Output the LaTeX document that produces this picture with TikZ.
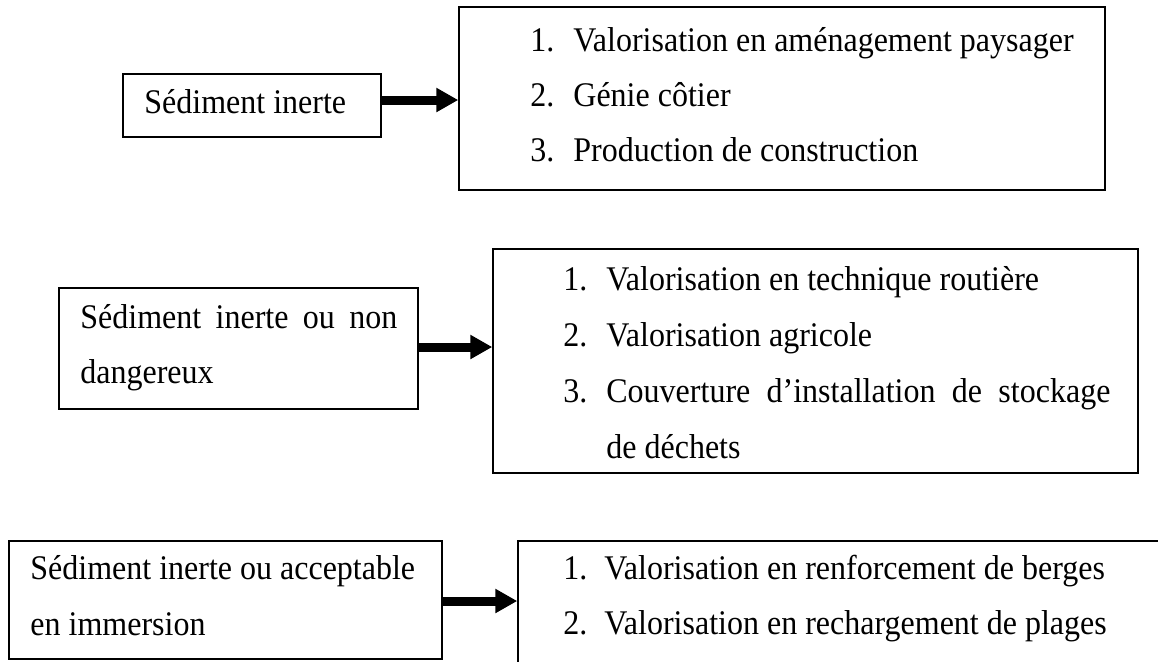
\documentclass[tikz,border=0pt]{standalone}
\usepackage{fontspec}
\setmainfont{Liberation Serif}
\usetikzlibrary{arrows.meta}
\newcommand\tallt[1]{\scalebox{1}[1.08]{#1}}
\begin{document}
\begin{tikzpicture}[x=0.5pt,y=-0.5pt,
  box/.style={draw=black,line width=0.75pt,rectangle,inner sep=0pt},
  txt/.style={anchor=base west,inner sep=0pt,font=\fontsize{16}{27}\selectfont},
  flow/.style={line width=4.5pt,-{Triangle[length=11pt,width=11.5pt]}}]
\useasboundingbox (0,0) rectangle (1158,661);
\clip (0,0) rectangle (1158,661);
% boxes
\node[box,minimum width=129pt,minimum height=31.5pt] (A) at (252,105.5) {};
\node[box,minimum width=323pt,minimum height=91.5pt] (B) at (782,98.5) {};
\node[box,minimum width=179.5pt,minimum height=60.5pt] (C) at (238.5,348.5) {};
\node[box,minimum width=322.5pt,minimum height=112pt] (D) at (815.5,361) {};
\node[box,minimum width=216.5pt,minimum height=59pt] (E) at (225.5,600) {};
\node[box,minimum width=326pt,minimum height=74.5pt] (F) at (844,615.5) {};
% texts row 1
\node[txt] (a1) at (144,113) {\tallt{Sédiment inerte}};
\node[txt] (b1n) at (530,51) {\tallt{1.}};
\node[txt] (b1) at (573,51) {\tallt{Valorisation en aménagement paysager}};
\node[txt] (b2n) at (530,106) {\tallt{2.}};
\node[txt] (b2) at (573,106) {\tallt{Génie côtier}};
\node[txt] (b3n) at (530,161) {\tallt{3.}};
\node[txt] (b3) at (573,161) {\tallt{Production de construction}};
% texts row 2
\node[txt] (c1) at (80,328) {\tallt{\hbox to 158.5pt{Sédiment\hfill inerte\hfill ou\hfill non}}};
\node[txt] (c2) at (80,383) {\tallt{dangereux}};
\node[txt] (d1n) at (563,290) {\tallt{1.}};
\node[txt] (d1) at (606,290) {\tallt{Valorisation en technique routière}};
\node[txt] (d2n) at (563,346) {\tallt{2.}};
\node[txt] (d2) at (606,346) {\tallt{Valorisation agricole}};
\node[txt] (d3n) at (563,402) {\tallt{3.}};
\node[txt] (d3) at (606,402) {\tallt{\hbox to 252pt{Couverture\hfill d’installation\hfill de\hfill stockage}}};
\node[txt] (d4) at (606,458) {\tallt{de déchets}};
% texts row 3
\node[txt] (e1) at (30,579) {\tallt{Sédiment inerte ou acceptable}};
\node[txt] (e2) at (30,635) {\tallt{en immersion}};
\node[txt] (f1n) at (563,579) {\tallt{1.}};
\node[txt] (f1) at (604,579) {\tallt{Valorisation en renforcement de berges}};
\node[txt] (f2n) at (563,634) {\tallt{2.}};
\node[txt] (f2) at (604,634) {\tallt{Valorisation en rechargement de plages}};
% arrows
\coordinate (r1) at (0,100);
\coordinate (r2) at (0,347);
\coordinate (r3) at (0,601);
\draw[flow] (A.east |- r1) -- (B.west |- r1);
\draw[flow] (C.east |- r2) -- (D.west |- r2);
\draw[flow] (E.east |- r3) -- (F.west |- r3);
\end{tikzpicture}
\end{document}
